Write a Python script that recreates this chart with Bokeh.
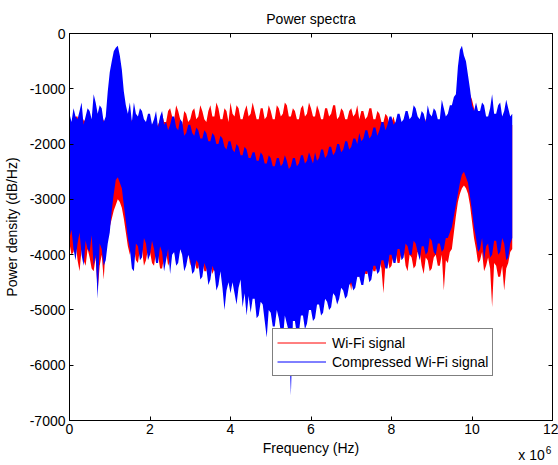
from bokeh.plotting import figure
from bokeh.models import (Range1d, LinearAxis, FixedTicker, Legend, LegendItem,
                          ColumnDataSource)
from bokeh.embed import file_html
from bokeh.resources import INLINE

FONT = "Liberation Sans"

# Frequency grid of the read samples, in MHz (0.05 MHz spacing, 0 .. 11 MHz)
FREQ_MHZ = [round(0.05 * i, 2) for i in range(221)]

# Compressed Wi-Fi signal: upper / lower envelope (dB/Hz)
BLUE_HI = [
    -1450, -1600, -1350, -1500, -1550, -1400, -1250, -1650, -1500, -1350,
    -1400, -1550, -1100, -1250, -1450, -1300, -1350, -1600, -1500, -1050,
    -700, -500, -320, -260, -220, -400, -650, -1050, -1300, -1450,
    -1250, -1600, -1250, -1450, -1500, -1350, -1400, -1550, -1600, -1450,
    -1450, -1650, -1550, -1400, -1700, -1500, -1400, -1650, -1600, -1750,
    -1650, -1500, -1500, -1700, -1750, -1550, -1600, -1850, -1800, -1650,
    -1650, -1800, -1850, -1700, -1750, -1900, -1900, -1750, -1800, -1950,
    -1950, -1800, -1850, -2000, -2000, -1850, -1900, -2050, -2100, -1950,
    -1950, -2100, -2150, -2000, -2050, -2200, -2200, -2050, -2100, -2250,
    -2250, -2150, -2150, -2300, -2300, -2150, -2200, -2350, -2350, -2200,
    -2250, -2400, -2400, -2250, -2250, -2400, -2350, -2200, -2300, -2450,
    -2400, -2250, -2250, -2400, -2350, -2200, -2200, -2350, -2300, -2150,
    -2250, -2350, -2150, -2300, -2250, -2100, -2100, -2250, -2200, -2050,
    -2050, -2200, -2150, -2000, -2000, -2150, -2100, -1950, -1950, -2100,
    -2050, -1900, -1900, -2000, -1800, -1950, -1900, -1750, -1750, -1900,
    -1850, -1700, -1700, -1850, -1750, -1600, -1600, -1750, -1650, -1500,
    -1500, -1650, -1600, -1450, -1450, -1600, -1550, -1400, -1400, -1550,
    -1500, -1300, -1350, -1500, -1550, -1400, -1450, -1600, -1300, -1450,
    -1500, -1350, -1400, -1550, -1550, -1200, -1350, -1500, -1450, -1300,
    -1300, -1150, -1100, -600, -300, -220, -400, -500, -750, -1000,
    -1300, -1400, -1250, -1400, -1400, -1250, -1300, -1500, -1500, -1350,
    -1100, -1450, -1450, -1300, -1250, -1500, -1400, -1200, -1350, -1500,
    -1450,
]
BLUE_LO = [
    -3700, -3550, -3900, -4100, -3800, -3600, -4000, -4200, -3750, -3900,
    -3950, -3650, -4200, -4000, -4800, -3800, -3900, -4200, -4100, -3800,
    -3600, -3200, -2900, -2650, -2600, -2700, -2800, -3100, -3400, -3700,
    -3900, -4250, -4300, -3800, -3850, -4100, -4050, -3700, -3800, -4100,
    -4000, -3750, -3900, -4150, -4150, -3850, -3950, -4300, -4100, -3900,
    -4350, -4000, -3950, -4200, -4150, -3900, -4000, -4300, -4200, -4000,
    -4100, -4350, -4300, -4100, -4150, -4450, -4400, -4150, -4250, -4550,
    -4450, -4200, -4300, -4650, -4550, -4300, -4600, -5000, -4650, -4500,
    -4700, -4500, -4700, -4900, -4600, -4450, -4950, -4700, -5100, -4750,
    -5050, -4800, -4800, -5150, -5100, -4850, -4900, -5200, -5500, -5000,
    -5050, -5300, -5300, -5000, -5150, -5400, -5550, -5100, -5250, -5400,
    -6550, -5200, -5200, -5450, -5400, -5100, -5100, -5350, -5250, -5000,
    -5000, -5200, -5150, -4900, -4900, -5100, -5050, -4800, -4850, -5000,
    -4950, -4700, -4750, -4900, -4800, -4600, -4650, -4800, -4750, -4550,
    -4500, -4650, -4600, -4400, -4400, -4550, -4550, -4300, -4300, -4500,
    -4450, -4200, -4200, -4350, -4300, -4100, -4100, -4250, -4250, -4000,
    -4000, -4150, -4150, -3900, -3900, -4100, -4050, -3800, -3850, -4000,
    -4000, -3750, -3800, -3950, -4100, -3850, -3850, -4000, -3950, -3700,
    -3750, -3950, -4000, -3800, -3800, -3950, -3900, -3700, -3700, -3600,
    -3500, -3300, -3100, -2900, -2700, -2550, -2500, -2600, -2700, -2950,
    -3200, -3500, -3700, -3950, -3900, -3700, -4100, -3850, -3800, -4050,
    -4000, -3750, -3750, -4000, -3950, -3700, -3800, -4100, -4050, -3800,
    -3700,
]

# Wi-Fi signal: upper / lower envelope (dB/Hz)
RED_HI = [
    -1550, -1700, -1650, -1500, -1500, -1700, -1700, -1550, -1600, -1750,
    -1550, -1650, -1750, -1600, -1600, -1750, -1650, -1550, -1700, -1500,
    -1400, -1200, -1100, -1000, -1000, -1050, -1150, -1300, -1500, -1650,
    -1650, -1550, -1700, -1600, -1600, -1700, -1750, -1600, -1650, -1700,
    -1700, -1650, -1600, -1700, -1650, -1550, -1450, -1600, -1600, -1400,
    -1350, -1500, -1550, -1300, -1400, -1550, -1650, -1400, -1450, -1600,
    -1550, -1400, -1350, -1550, -1500, -1300, -1400, -1550, -1600, -1400,
    -1300, -1500, -1500, -1250, -1350, -1550, -1550, -1350, -1400, -1600,
    -1250, -1450, -1500, -1300, -1350, -1550, -1550, -1400, -1300, -1500,
    -1450, -1250, -1400, -1550, -1550, -1350, -1350, -1550, -1500, -1300,
    -1400, -1550, -1550, -1300, -1350, -1500, -1450, -1250, -1300, -1500,
    -1500, -1350, -1400, -1550, -1550, -1350, -1300, -1500, -1450, -1250,
    -1350, -1500, -1500, -1300, -1400, -1550, -1550, -1350, -1350, -1500,
    -1450, -1300, -1300, -1550, -1500, -1350, -1400, -1550, -1550, -1400,
    -1350, -1500, -1450, -1300, -1550, -1400, -1400, -1550, -1500, -1350,
    -1350, -1550, -1550, -1400, -1450, -1600, -1600, -1450, -1500, -1650,
    -1600, -1500, -1650, -1750, -1550, -1650, -1700, -1550, -1600, -1700,
    -1500, -1650, -1650, -1500, -1600, -1700, -1700, -1550, -1550, -1700,
    -1650, -1550, -1600, -1700, -1700, -1600, -1550, -1650, -1650, -1550,
    -1600, -1400, -1300, -1100, -1000, -900, -900, -950, -1000, -1100,
    -1200, -1350, -1500, -1650, -1600, -1500, -1550, -1700, -1700, -1600,
    -1500, -1650, -1650, -1550, -1600, -1750, -1700, -1550, -1550, -1700,
    -1650,
]
RED_LO = [
    -3800, -4000, -3950, -3750, -4100, -4300, -3900, -4100, -4200, -3900,
    -4050, -4250, -4300, -4050, -4650, -4200, -4000, -4450, -3850, -3700,
    -3500, -3350, -3200, -3100, -3000, -3050, -3150, -3350, -3600, -3850,
    -4000, -3850, -3850, -4100, -4150, -3900, -3900, -4200, -4100, -3900,
    -3950, -4150, -4200, -3950, -4000, -4250, -4250, -4050, -3950, -4200,
    -4100, -3900, -3900, -4150, -4050, -3900, -3950, -4200, -4100, -3950,
    -4200, -4000, -4050, -4250, -4250, -4050, -4100, -4300, -4300, -4100,
    -4150, -4350, -4250, -4100, -4100, -4300, -4300, -4100, -4150, -4350,
    -4350, -4200, -4200, -4400, -4300, -4150, -4150, -4350, -4350, -4200,
    -4250, -4400, -4400, -4200, -4200, -4400, -4350, -4200, -4250, -4400,
    -4400, -4250, -4200, -4400, -4350, -4200, -4250, -4400, -4400, -4250,
    -4300, -4450, -4350, -4200, -4200, -4400, -4400, -4250, -4250, -4400,
    -4350, -4200, -4200, -4400, -4400, -4250, -4250, -4400, -4350, -4200,
    -4300, -4450, -4450, -4300, -4250, -4400, -4400, -4250, -4300, -4450,
    -4650, -4300, -4250, -4400, -4400, -4250, -4200, -4350, -4350, -4200,
    -4150, -4300, -4300, -4150, -4100, -4250, -4700, -4150, -4050, -4250,
    -4200, -4000, -3950, -4150, -4150, -3950, -3900, -4200, -4300, -4000,
    -4050, -4250, -4200, -3950, -3950, -4200, -4350, -4050, -4100, -4300,
    -4250, -4050, -4000, -4200, -4200, -4000, -4650, -4100, -4150, -3950,
    -3900, -3600, -3300, -3050, -2900, -2800, -2750, -2800, -2900, -3100,
    -3400, -3700, -3900, -4150, -4100, -3950, -4300, -4200, -4050, -4250,
    -4950, -4150, -4200, -4400, -4400, -4200, -4650, -4250, -4150, -3950,
    -3900,
]

X_TICKS_MHZ = [0, 2, 4, 6, 8, 10, 12]
Y_TICKS = [-7000, -6000, -5000, -4000, -3000, -2000, -1000, 0]
SERIES_LABELS = ["Wi-Fi signal", "Compressed Wi-Fi signal"]
MULTIPLIER_BASE = "x 10"
MULTIPLIER_EXP = "6"

for arr in (BLUE_HI, BLUE_LO, RED_HI, RED_LO):
    assert len(arr) == len(FREQ_MHZ), len(arr)

freq_hz = [f * 1e6 for f in FREQ_MHZ]
src = ColumnDataSource(dict(x=freq_hz, red_hi=RED_HI, red_lo=RED_LO,
                            blue_hi=BLUE_HI, blue_lo=BLUE_LO))

p = figure(width=558, height=465, output_backend="svg", toolbar_location=None,
           x_range=Range1d(0, 12e6), y_range=Range1d(-7000, 0),
           min_border_left=67, min_border_right=6, min_border_top=33,
           min_border_bottom=45, title="Power spectra")
p.background_fill_color = "white"
p.border_fill_color = "white"
p.outline_line_color = "black"
p.outline_line_width = 1
p.xgrid.visible = False
p.ygrid.visible = False

p.title.align = "center"
p.title.text_font = FONT
p.title.text_font_size = "14px"
p.title.text_font_style = "normal"
p.title.text_color = "black"
p.title.standoff = 13

p.varea(x="x", y1="red_lo", y2="red_hi", source=src, fill_color="#ff0000")
p.varea(x="x", y1="blue_lo", y2="blue_hi", source=src, fill_color="#0000ff")

x_ticker = FixedTicker(ticks=[int(t * 1e6) for t in X_TICKS_MHZ])
y_ticker = FixedTicker(ticks=Y_TICKS)

xa = p.xaxis[0]
xa.ticker = x_ticker
xa.major_label_overrides = {int(t * 1e6): str(t) for t in X_TICKS_MHZ}
xa.axis_label = "Frequency (Hz)"
ya = p.yaxis[0]
ya.ticker = y_ticker
ya.major_label_overrides = {t: str(t) for t in Y_TICKS}
ya.axis_label = "Power density (dB/Hz)"

for ax in (xa, ya):
    ax.major_tick_in = 4
    ax.major_tick_out = 0
    ax.minor_tick_line_color = None
    ax.axis_line_color = "black"
    ax.major_tick_line_color = "black"
    ax.major_label_text_font = FONT
    ax.major_label_text_font_size = "14px"
    ax.major_label_text_color = "black"
    ax.axis_label_text_font = FONT
    ax.axis_label_text_font_size = "14px"
    ax.axis_label_text_font_style = "normal"
    ax.axis_label_text_color = "black"
ya.major_label_standoff = 4
ya.axis_label_standoff = 7
xa.major_label_standoff = 3
xa.axis_label_standoff = 3

top = LinearAxis(ticker=x_ticker,
                 major_label_overrides={int(t * 1e6): "" for t in X_TICKS_MHZ},
                 major_label_text_font_size="1px",
                 major_label_standoff=0, major_tick_in=4, major_tick_out=0,
                 minor_tick_line_color=None, axis_line_color="black")
right = LinearAxis(ticker=y_ticker,
                   major_label_overrides={t: "" for t in Y_TICKS},
                   major_label_text_font_size="1px",
                   major_label_standoff=0, major_tick_in=4, major_tick_out=0,
                   minor_tick_line_color=None, axis_line_color="black")
p.add_layout(top, "above")
p.add_layout(right, "right")

# axis multiplier "x 10^6": two tick-less helper axes below the x axis whose
# labels are pulled up (negative standoff) so that they take almost no room
MULT_X = 11480000
EXP_X = 11900000
mult_axis = LinearAxis(ticker=FixedTicker(ticks=[MULT_X]),
                       major_label_overrides={MULT_X: MULTIPLIER_BASE},
                       major_label_text_font=FONT, major_label_text_font_size="14px",
                       major_label_text_color="black", major_label_standoff=-12,
                       major_tick_in=0, major_tick_out=0, major_tick_line_color=None,
                       minor_tick_line_color=None, axis_line_color=None)
exp_axis = LinearAxis(ticker=FixedTicker(ticks=[EXP_X]),
                      major_label_overrides={EXP_X: MULTIPLIER_EXP},
                      major_label_text_font=FONT, major_label_text_font_size="10px",
                      major_label_text_color="black", major_label_standoff=-20,
                      major_tick_in=0, major_tick_out=0, major_tick_line_color=None,
                      minor_tick_line_color=None, axis_line_color=None)
p.add_layout(mult_axis, "below")
p.add_layout(exp_axis, "below")

# legend swatches: hidden line renderers on the same data, drawn only in the legend
leg_red = p.line(x="x", y="red_hi", source=src, line_color="#ff0000",
                 line_width=1, visible=False)
leg_blue = p.line(x="x", y="blue_hi", source=src, line_color="#0000ff",
                  line_width=1, visible=False)
legend = Legend(items=[LegendItem(label=SERIES_LABELS[0], renderers=[leg_red]),
                       LegendItem(label=SERIES_LABELS[1], renderers=[leg_blue])],
                location=(203, 44), padding=4, spacing=0, margin=0,
                glyph_width=49, glyph_height=19, label_height=19,
                label_standoff=6, label_text_font=FONT,
                label_text_font_size="14px", label_text_color="black",
                border_line_color="black", border_line_width=1,
                background_fill_color="white", background_fill_alpha=1,
                inactive_fill_alpha=0)
p.add_layout(legend)

open("out.html", "w").write(file_html(p, INLINE))
